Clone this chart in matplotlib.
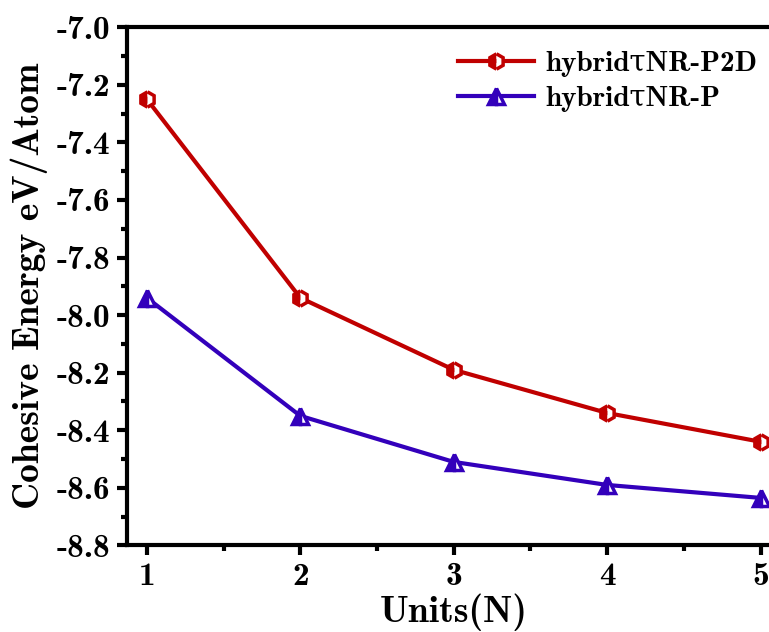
import os
import matplotlib
matplotlib.use("Agg")
import matplotlib.pyplot as plt
from matplotlib import font_manager as fm
from matplotlib.ticker import MultipleLocator, FormatStrFormatter

# bold Computer Modern shipped with matplotlib
cmb = os.path.join(matplotlib.get_data_path(), "fonts", "ttf", "cmb10.ttf")
fm.fontManager.addfont(cmb)
plt.rcParams["font.family"] = ["cmb10", "DejaVu Serif"]
plt.rcParams["axes.unicode_minus"] = False

units = [1, 2, 3, 4, 5]
p2d = [-7.25, -7.94, -8.19, -8.34, -8.44]
p = [-7.94, -8.35, -8.51, -8.59, -8.635]
labels = ["hybridτNR-P2D", "hybridτNR-P"]

fig = plt.figure(figsize=(7.69, 6.32), dpi=100)
ax = fig.add_axes([0.165, 0.137, 0.85, 0.82])

ax.plot(units, p2d, color="#c00000", lw=3, marker="h", ms=11, mew=2.5,
        fillstyle="left", markerfacecoloralt="white", label=labels[0])
ax.plot(units, p, color="#3300bb", lw=3, marker="^", ms=11, mew=2.5,
        fillstyle="left", markerfacecoloralt="white", label=labels[1])

ax.set_xlim(0.87, 5.13)
ax.set_ylim(-8.8, -7.0)
ax.xaxis.set_major_locator(MultipleLocator(1))
ax.xaxis.set_minor_locator(MultipleLocator(0.5))
ax.yaxis.set_major_locator(MultipleLocator(0.2))
ax.yaxis.set_minor_locator(MultipleLocator(0.1))
ax.yaxis.set_major_formatter(FormatStrFormatter("%.1f"))

for s in ax.spines.values():
    s.set_linewidth(3)
ax.tick_params(which="major", direction="out", length=7, width=3, labelsize=24, pad=5)
ax.tick_params(which="minor", direction="out", length=4, width=3)
ax.tick_params(top=False, right=False, which="both")

ax.set_xlabel("Units(N)", fontsize=27, labelpad=2)
ax.set_ylabel("Cohesive Energy eV/Atom", fontsize=27, labelpad=6)

ax.legend(loc="upper right", frameon=False, fontsize=21, handlelength=2.6,
          handletextpad=0.4, bbox_to_anchor=(1.005, 1.005), labelspacing=0.3)

fig.savefig("out.png", dpi=100)
